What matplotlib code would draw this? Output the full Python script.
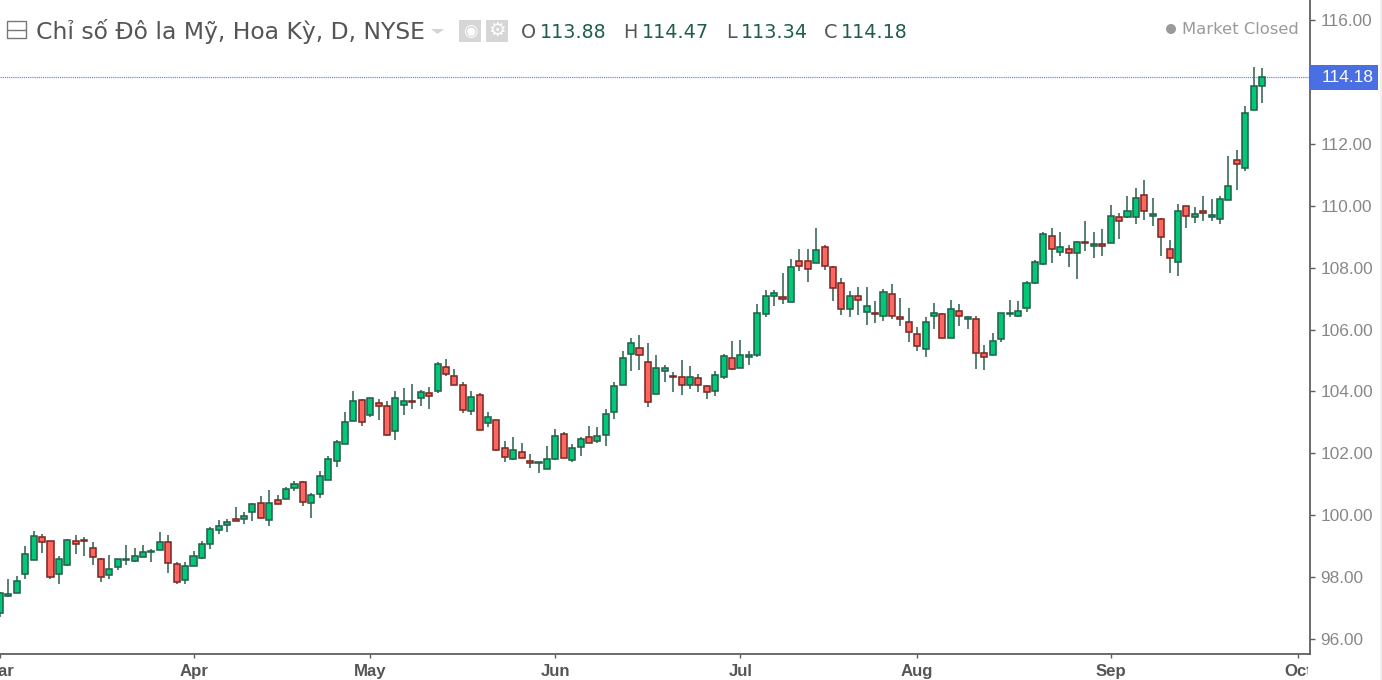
import numpy as np
import matplotlib
matplotlib.use('Agg')
import matplotlib.pyplot as plt
from matplotlib.patches import Rectangle, Ellipse, Polygon
from matplotlib.transforms import Bbox

opens = [96.82, 97.39, 97.49, 98.09, 98.55, 99.27, 99.17, 98.09, 98.39, 99.17,
         99.18, 98.92, 98.57, 98.05, 98.31, 98.54, 98.50, 98.65, 98.79, 98.86,
         99.13, 98.41, 97.90, 98.36, 98.60, 99.06, 99.51, 99.67, 99.88, 99.87,
         100.08, 100.38, 99.82, 100.49, 100.53, 100.88, 101.05, 100.38, 100.68, 101.13,
         101.74, 102.29, 103.05, 103.72, 103.25, 103.61, 103.53, 102.70, 103.57, 103.68,
         103.77, 103.94, 104.02, 104.78, 104.49, 104.19, 103.36, 103.88, 102.96, 103.06,
         102.15, 101.80, 102.05, 101.76, 101.67, 101.49, 101.80, 102.61, 101.78, 102.19,
         102.51, 102.39, 102.59, 103.34, 104.21, 105.22, 105.39, 104.94, 103.92, 104.66,
         104.49, 104.47, 104.22, 104.43, 104.17, 104.01, 104.47, 105.09, 104.77, 105.12,
         105.17, 106.49, 107.08, 107.06, 106.90, 108.21, 108.21, 108.16, 108.68, 108.02,
         107.51, 106.68, 107.10, 106.58, 106.55, 106.44, 107.16, 106.40, 106.24, 105.84,
         105.38, 106.43, 106.50, 105.72, 106.60, 106.33, 106.35, 105.23, 105.17, 105.68,
         106.49, 106.45, 106.69, 107.49, 108.11, 109.02, 108.52, 108.61, 108.46, 108.84,
         108.71, 108.78, 108.81, 109.64, 109.63, 109.63, 110.34, 109.68, 109.59, 108.61,
         108.20, 109.99, 109.63, 109.84, 109.63, 109.57, 110.19, 111.49, 111.24, 113.10,
         113.88]
highs = [97.50, 97.92, 98.03, 99.00, 99.49, 99.39, 99.17, 98.68, 99.23, 99.35,
         99.28, 99.14, 98.60, 98.69, 98.58, 99.04, 98.93, 99.04, 98.89, 99.45,
         99.34, 98.47, 98.47, 98.82, 99.15, 99.60, 99.85, 99.88, 100.25, 100.09,
         100.39, 100.60, 100.81, 100.65, 100.90, 101.11, 101.11, 100.70, 101.41, 101.91,
         102.43, 103.33, 104.00, 103.74, 103.80, 103.74, 103.69, 104.00, 104.10, 104.25,
         104.05, 104.14, 104.94, 105.06, 104.71, 104.29, 104.00, 103.94, 103.33, 103.07,
         102.38, 102.52, 102.33, 101.97, 101.72, 102.22, 102.77, 102.68, 102.28, 102.51,
         102.88, 102.84, 103.43, 104.29, 105.31, 105.72, 105.82, 105.57, 105.16, 104.85,
         104.61, 105.02, 104.81, 104.55, 104.20, 104.65, 105.20, 105.62, 105.66, 105.29,
         106.82, 107.27, 107.27, 107.82, 108.29, 108.59, 108.59, 109.30, 108.73, 108.07,
         107.68, 107.26, 107.37, 107.37, 106.92, 107.32, 107.47, 107.02, 106.71, 106.07,
         106.40, 106.86, 106.55, 106.97, 106.82, 106.44, 106.45, 105.49, 105.90, 106.55,
         106.97, 106.92, 107.58, 108.24, 109.14, 109.30, 109.14, 108.74, 108.88, 109.51,
         109.14, 109.24, 110.02, 109.76, 110.32, 110.57, 110.83, 110.26, 109.60, 108.89,
         110.06, 109.99, 109.95, 110.31, 110.21, 110.31, 111.63, 111.82, 113.23, 114.51,
         114.47]
lows = [96.70, 97.36, 97.47, 97.94, 98.54, 98.78, 97.93, 97.77, 98.35, 98.74,
        98.67, 98.38, 97.82, 97.93, 98.23, 98.38, 98.49, 98.63, 98.48, 98.85,
        98.13, 97.78, 97.77, 98.35, 98.59, 98.89, 99.39, 99.44, 99.80, 99.70,
        99.80, 99.90, 99.65, 100.36, 100.52, 100.76, 100.29, 99.90, 100.56, 101.12,
        101.56, 102.28, 103.04, 102.89, 103.18, 103.07, 102.54, 102.43, 103.25, 103.44,
        103.54, 103.44, 103.96, 104.51, 104.21, 103.29, 103.25, 102.74, 102.83, 102.08,
        101.72, 101.78, 101.84, 101.52, 101.37, 101.48, 101.79, 101.84, 101.72, 101.92,
        102.32, 102.33, 102.22, 103.10, 104.20, 104.65, 104.69, 103.48, 103.90, 104.29,
        103.99, 103.89, 104.09, 103.99, 103.74, 103.84, 104.40, 104.70, 104.74, 104.86,
        105.11, 106.41, 106.77, 106.82, 106.89, 107.89, 107.53, 108.15, 107.93, 106.93,
        106.48, 106.41, 106.47, 106.16, 106.22, 106.27, 106.33, 106.11, 105.60, 105.31,
        105.11, 106.01, 105.71, 105.71, 106.11, 106.01, 104.71, 104.70, 105.16, 105.61,
        106.39, 106.39, 106.58, 107.48, 108.10, 108.14, 108.39, 108.03, 107.63, 108.54,
        108.33, 108.39, 108.80, 108.94, 109.62, 109.40, 109.55, 109.36, 108.39, 107.84,
        107.74, 109.30, 109.45, 109.50, 109.50, 109.40, 110.18, 110.52, 111.12, 113.09,
        113.34]
closes = [97.47, 97.45, 97.86, 98.72, 99.32, 99.12, 97.99, 98.57, 99.18, 99.05,
          99.15, 98.65, 97.99, 98.26, 98.57, 98.58, 98.66, 98.81, 98.82, 99.13,
          98.46, 97.84, 98.36, 98.66, 99.07, 99.54, 99.63, 99.77, 99.81, 99.98,
          100.35, 99.91, 100.38, 100.37, 100.83, 100.99, 100.42, 100.64, 101.25, 101.80,
          102.36, 103.02, 103.68, 103.00, 103.78, 103.51, 102.59, 103.78, 103.68, 103.65,
          103.98, 103.86, 104.89, 104.57, 104.22, 103.41, 103.82, 102.75, 103.16, 102.09,
          101.89, 102.10, 101.85, 101.68, 101.70, 101.80, 102.56, 101.85, 102.15, 102.46,
          102.34, 102.57, 103.27, 104.18, 105.09, 105.55, 105.17, 103.66, 104.74, 104.74,
          104.45, 104.22, 104.47, 104.22, 103.97, 104.53, 105.13, 104.71, 105.19, 105.19,
          106.55, 107.10, 107.17, 106.99, 108.02, 108.05, 107.95, 108.57, 108.05, 107.35,
          106.68, 107.10, 106.94, 106.75, 106.49, 107.21, 106.44, 106.33, 105.93, 105.48,
          106.24, 106.54, 105.72, 106.65, 106.43, 106.40, 105.23, 105.12, 105.64, 106.54,
          106.52, 106.60, 107.51, 108.17, 109.08, 108.60, 108.67, 108.46, 108.82, 108.81,
          108.78, 108.71, 109.68, 109.52, 109.83, 110.24, 109.82, 109.74, 109.01, 108.31,
          109.84, 109.67, 109.73, 109.78, 109.72, 110.23, 110.65, 111.34, 113.01, 113.88,
          114.18]

month_labels = ['Mar', 'Apr', 'May', 'Jun', 'Jul', 'Aug', 'Sep', 'Oct']
month_bars = [0, 23, 44, 66, 88, 109, 132, 154.25]
price_ticks = [96, 98, 100, 102, 104, 106, 108, 110, 112, 116]
last_price = 114.18
title = 'Chỉ số Đô la Mỹ, Hoa Kỳ, D, NYSE'
ohlc_names = ['O', 'H', 'L', 'C']
ohlc_values = [113.88, 114.47, 113.34, 114.18]

W, H = 1382, 680
fig = plt.figure(figsize=(W / 100, H / 100), dpi=100)
ax = fig.add_axes([0, 1 - 654 / H, 1310 / W, 654 / H])

o = np.array(opens)
c = np.array(closes)
hi = np.array(highs)
lo = np.array(lows)
bars = np.arange(len(o))
up = c >= o

# wicks first, bodies on top
ax.vlines(bars, lo, hi, colors='#3d6b58', linewidth=1.2, zorder=2)
ax.bar(bars[up], (c - o)[up], bottom=o[up], width=0.72,
       color='#00c878', edgecolor='#23624c', linewidth=1.15, zorder=3)
ax.bar(bars[~up], (c - o)[~up], bottom=o[~up], width=0.72,
       color='#ff665f', edgecolor='#7c2a26', linewidth=1.15, zorder=3)

ax.set_xlim(0.288, 155.69)
ax.set_ylim(95.5, 116.663)

ax.axhline(last_price, color='#6a8df0', linewidth=0.9, linestyle=(0, (1, 0.7)), zorder=1)

ax.spines['top'].set_visible(False)
ax.spines['left'].set_visible(False)
ax.spines['right'].set_color('#5d6063')
ax.spines['bottom'].set_color('#5d6063')
ax.spines['right'].set_linewidth(1.3)
ax.spines['bottom'].set_linewidth(1.3)

ax.yaxis.tick_right()
ax.set_yticks(price_ticks)
ax.set_yticklabels([f'{t:.2f}' for t in price_ticks], fontsize=12.4,
                   color='#85888a', family='Liberation Sans')
ax.tick_params(axis='y', length=3.6, width=1, color='#5d6063', pad=4)
ax.set_xticks(month_bars)
ax.set_xticklabels(month_labels, fontsize=12.1, color='#555555',
                   family='Liberation Sans', fontweight='bold')
ax.tick_params(axis='x', length=3, width=1, color='#5d6063', pad=4)
# the Oct label stops short of the price scale
clip = Bbox([[0, 0], [1308, H]])
for lab in ax.get_xticklabels():
    lab.set_clip_on(True)
    lab.set_clip_box(clip)


def px(x, y):
    return x / W, 1 - y / H


# last price tag on the scale
fig.add_artist(Rectangle(px(1310, 90), 68 / W, 25 / H, transform=fig.transFigure,
                         facecolor='#4a6fe3', edgecolor='none'))
fig.text(*px(1322, 78), f'{last_price:.2f}', color='white', fontsize=12.4,
         ha='left', va='center', family='Liberation Sans')
# thin grey strip at the right edge of the screenshot
fig.add_artist(Rectangle(px(1380, H), 2 / W, 1, transform=fig.transFigure,
                         facecolor='#efefef', edgecolor='none'))

# header
fig.add_artist(Rectangle(px(7, 38), 19 / W, 17 / H, transform=fig.transFigure,
                         facecolor='white', edgecolor='#777777', linewidth=1))
fig.add_artist(plt.Line2D([8 / W, 25 / W], [1 - 30 / H, 1 - 30 / H], color='#777777', linewidth=1))
fig.text(*px(36, 32), title, color='#555555', fontsize=16.9, ha='left', va='center')
fig.add_artist(Polygon([px(431, 29), px(444, 29), px(437.5, 34)], transform=fig.transFigure,
                       facecolor='#d4d4d4', edgecolor='none'))

# eye and gear buttons
for x0, glyph, size in [(459, '◉', 12), (486, '⚙', 14)]:
    fig.add_artist(Rectangle(px(x0, 42), 22 / W, 22 / H, transform=fig.transFigure,
                             facecolor='#d6d6d6', edgecolor='none'))
    fig.text(*px(x0 + 11, 31), glyph, color='white', fontsize=size, ha='center', va='center')

name_x = [521, 623, 726, 824]
value_x = [540, 642, 741, 841]
for name, val, xn, xv in zip(ohlc_names, ohlc_values, name_x, value_x):
    fig.text(*px(xn, 32), name, color='#555555', fontsize=13.8, ha='left', va='center')
    fig.text(*px(xv, 32), f'{val:.2f}', color='#1f5f49', fontsize=13.8, ha='left', va='center')

fig.add_artist(Ellipse(px(1171, 29), 10 / W, 10 / H, transform=fig.transFigure,
                       facecolor='#9a9a9a', edgecolor='none'))
fig.text(*px(1182, 29), 'Market Closed', color='#9a9a9a', fontsize=11.8, ha='left', va='center')

fig.savefig('out.png', dpi=100)
